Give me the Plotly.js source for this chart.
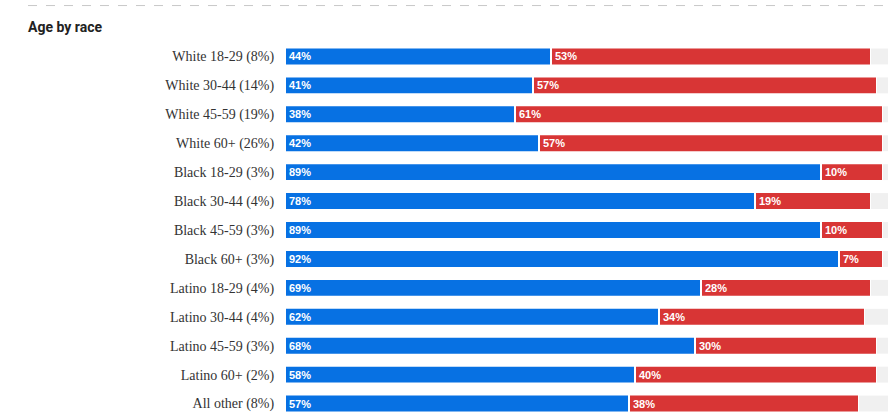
<!DOCTYPE html>
<html>
<head>
<meta charset="utf-8">
<script src="https://cdn.plot.ly/plotly-3.0.1.min.js"></script>
<style>
html,body{margin:0;padding:0;background:#fff;}
#chart{width:890px;height:418px;}
</style>
</head>
<body>
<div id="chart"></div>
<script>
var categories = ["White 18-29 (8%)","White 30-44 (14%)","White 45-59 (19%)","White 60+ (26%)",
  "Black 18-29 (3%)","Black 30-44 (4%)","Black 45-59 (3%)","Black 60+ (3%)",
  "Latino 18-29 (4%)","Latino 30-44 (4%)","Latino 45-59 (3%)","Latino 60+ (2%)","All other (8%)"];
var demValues = [44,41,38,42,89,78,89,92,69,62,68,58,57];
var repValues = [53,57,61,57,10,19,10,7,28,34,30,40,38];

var XMAX = 604/6;
var GREY_END = 602/6;
var GAP = 2/6;
var GAP2 = 1/6;

var repBase = demValues.map(function(d){return d + GAP;});
var greyBase = demValues.map(function(d,i){return d + GAP + repValues[i] + GAP2;});
var greyLen = greyBase.map(function(b){return Math.max(GREY_END - b, 0);});

var textFont = {family:"Liberation Sans, Arial, sans-serif", size:11, color:"#ffffff", weight:700};

var traces = [
  {type:"bar", orientation:"h", y:categories, x:greyLen, base:greyBase,
   marker:{color:"#f0f0f0"}, hoverinfo:"skip", showlegend:false},
  {type:"bar", orientation:"h", y:categories, x:demValues, base:0,
   marker:{color:"#0771e3"}, text:demValues.map(function(v){return v+"%";}),
   textposition:"inside", insidetextanchor:"start", textangle:0, constraintext:"none",
   insidetextfont:textFont, hoverinfo:"skip", showlegend:false},
  {type:"bar", orientation:"h", y:categories, x:repValues, base:repBase,
   marker:{color:"#d83535"}, text:repValues.map(function(v){return v+"%";}),
   textposition:"inside", insidetextanchor:"start", textangle:0, constraintext:"none",
   insidetextfont:textFont, hoverinfo:"skip", showlegend:false}
];

var layout = {
  width:890, height:418,
  margin:{l:286, r:0, t:41.5, b:0, pad:0},
  paper_bgcolor:"#ffffff", plot_bgcolor:"#ffffff",
  barmode:"overlay", bargap:0.45,
  showlegend:false, hovermode:false,
  title:{text:"<b>Age by race</b>", x:28/890, xanchor:"left", y:1-27/418, yanchor:"middle",
    font:{family:"Roboto, Liberation Sans, Arial, sans-serif", size:14, color:"#222222"}},
  xaxis:{range:[0, XMAX], showgrid:false, zeroline:false, showticklabels:false, fixedrange:true},
  yaxis:{autorange:"reversed", showgrid:false, zeroline:false, ticks:"outside", ticklen:8,
    tickcolor:"rgba(0,0,0,0)", showline:false,
    tickfont:{family:"Liberation Serif, DejaVu Serif, serif", size:14, color:"#333333"}},
  shapes:[{type:"line", xref:"paper", yref:"paper", x0:(28-286)/604, x1:1, y0:1+36.5/376.5, y1:1+36.5/376.5,
    line:{color:"#c8c8c8", width:1, dash:"dash"}}]
};

Plotly.newPlot("chart", traces, layout, {displayModeBar:false, staticPlot:true});
</script>
</body>
</html>
